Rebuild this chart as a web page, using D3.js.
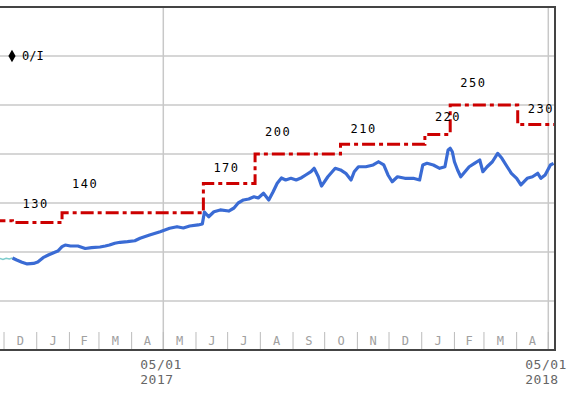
<!DOCTYPE html>
<html>
<head>
<meta charset="utf-8">
<script src="https://cdn.jsdelivr.net/npm/d3@7"></script>
<style>
  body { margin: 0; background: #fff; }
  svg { display: block; }
</style>
</head>
<body>
<svg id="chart"></svg>
<script>
// share price before the period (thin line)
const preDates = ["2016-11-27", "2016-11-30", "2016-12-03", "2016-12-06", "2016-12-09"];
const preValues = [93.5, 92.5, 93.6, 92.8, 93.9];

// share price
const priceDates = [
  "2016-12-09", "2016-12-13", "2016-12-18", "2016-12-23", "2016-12-29", "2017-01-02", "2017-01-07", "2017-01-12",
  "2017-01-17", "2017-01-21", "2017-01-25", "2017-01-28", "2017-02-02", "2017-02-09", "2017-02-16", "2017-02-22",
  "2017-03-02", "2017-03-07", "2017-03-11", "2017-03-16", "2017-03-21", "2017-03-28", "2017-04-04", "2017-04-09",
  "2017-04-18", "2017-04-28", "2017-05-07", "2017-05-14", "2017-05-20", "2017-05-26", "2017-06-03", "2017-06-07",
  "2017-06-09", "2017-06-13", "2017-06-18", "2017-06-24", "2017-07-02", "2017-07-07", "2017-07-11", "2017-07-16",
  "2017-07-21", "2017-07-26", "2017-07-30", "2017-08-04", "2017-08-09", "2017-08-13", "2017-08-17", "2017-08-21",
  "2017-08-25", "2017-08-30", "2017-09-04", "2017-09-09", "2017-09-13", "2017-09-18", "2017-09-21", "2017-09-25",
  "2017-09-28", "2017-10-04", "2017-10-11", "2017-10-16", "2017-10-21", "2017-10-26", "2017-10-29", "2017-11-02",
  "2017-11-09", "2017-11-16", "2017-11-21", "2017-11-26", "2017-11-30", "2017-12-04", "2017-12-09", "2017-12-16",
  "2017-12-24", "2017-12-30", "2018-01-02", "2018-01-06", "2018-01-12", "2018-01-18", "2018-01-23", "2018-01-26",
  "2018-01-28", "2018-01-30", "2018-02-01", "2018-02-04", "2018-02-07", "2018-02-11", "2018-02-15", "2018-02-20",
  "2018-02-25", "2018-02-28", "2018-03-04", "2018-03-09", "2018-03-14", "2018-03-18", "2018-03-23", "2018-03-27",
  "2018-04-01", "2018-04-05", "2018-04-11", "2018-04-16", "2018-04-21", "2018-04-24", "2018-04-28", "2018-05-03",
  "2018-05-06"
];
const priceValues = [
  93.9, 91.8, 89.5, 87.8, 88.3, 89.8, 94.2, 96.9,
  99.3, 101, 105.4, 107.1, 106.1, 106.1, 103.6, 104.4,
  105.1, 106.1, 107.1, 108.9, 109.9, 110.5, 111.5, 114,
  117.3, 120.7, 124.2, 125.8, 124.5, 126.5, 127.6, 128.6,
  140.8, 136, 141.1, 142.9, 141.8, 144.9, 150, 153.1,
  154.1, 156.4, 155.1, 159.9, 153.1, 161.2, 170.1, 175.5,
  173.5, 175.2, 173.5, 175.8, 178.6, 182, 185.4, 176.8,
  167.3, 176.8, 185.4, 183.7, 180.3, 173.5, 181.9, 187,
  187, 188.8, 192.1, 188.8, 178.6, 171.7, 176.8, 175.2,
  175.2, 173.5, 188.8, 190.5, 188.8, 185.4, 187, 204.1,
  205.8, 202.3, 192.1, 183.7, 176.8, 181.9, 187, 190.5,
  193.9, 181.9, 187, 192.1, 200.7, 195.6, 187, 180.3,
  175.2, 168.4, 175.2, 176.8, 180.3, 175.2, 178.6, 188.8,
  190.5
];

// target price steps
const targetDates = ["2016-11-20", "2016-12-09", "2017-01-25", "2017-06-08", "2017-07-27", "2017-10-16", "2018-01-04", "2018-01-28", "2018-04-02", "2018-05-12"];
const targetValues = [132, 130, 140, 170, 200, 210, 220, 250, 230, 230];
const targetLabels = ["", "130", "140", "170", "200", "210", "220", "250", "230", ""];

const gridValues = [50, 100, 150, 200, 250, 300];
const monthLetters = ["J", "F", "M", "A", "M", "J", "J", "A", "S", "O", "N", "D"];
const dateTicks = ["2017-05-01", "2018-05-01"];
const legendText = "0/I";

// how far each target label sits above its step (px)
const labelDy = [0, 18, 28, 15, 22, 15, 17, 22, 15, 0];

const width = 571, height = 397;
const plotRight = 555, plotTop = 7, plotBottom = 350;
const parse = d3.timeParse("%Y-%m-%d");
const mono = "'DejaVu Sans Mono', monospace";

const svg = d3.select("#chart").attr("width", width).attr("height", height);

const x = d3.scaleTime()
  .domain([parse("2017-05-01"), parse("2018-05-01")])
  .range([163.3, 548.3]);
const y = d3.scaleLinear().domain([0, 350]).range([plotBottom, plotTop]);

svg.append("defs").append("clipPath").attr("id", "plot")
  .append("rect").attr("x", 0).attr("y", plotTop).attr("width", plotRight).attr("height", plotBottom - plotTop);

// gridlines
svg.append("g").selectAll("line").data(gridValues).enter().append("line")
  .attr("x1", 0).attr("x2", plotRight)
  .attr("y1", d => y(d)).attr("y2", d => y(d))
  .attr("stroke", "#c8c8c8").attr("stroke-width", 1.5);

svg.append("g").selectAll("line").data(dateTicks).enter().append("line")
  .attr("x1", d => x(parse(d))).attr("x2", d => x(parse(d)))
  .attr("y1", plotTop).attr("y2", plotBottom)
  .attr("stroke", "#c8c8c8").attr("stroke-width", 1.5);

// month row
const x0 = x.invert(0), x1 = x.invert(plotRight);
const months = d3.timeMonth.range(d3.timeMonth.floor(x0), x1);
const monthMid = d => (x(d) + x(d3.timeMonth.offset(d, 1))) / 2;
const monthG = svg.append("g").attr("clip-path", "url(#plot)");
monthG.selectAll("line").data(months).enter().append("line")
  .attr("x1", d => x(d)).attr("x2", d => x(d))
  .attr("y1", 332).attr("y2", plotBottom)
  .attr("stroke", "#bbb").attr("stroke-width", 1);
monthG.selectAll("text").data(months.filter(d => monthMid(d) > 6)).enter().append("text")
  .attr("x", monthMid)
  .attr("y", 341)
  .attr("text-anchor", "middle").attr("dominant-baseline", "middle")
  .attr("font-family", mono).attr("font-size", 12).attr("fill", "#a0a0a0")
  .text(d => monthLetters[d.getMonth()]);

// target price line
const target = targetDates.map((d, i) => ({ date: parse(d), value: targetValues[i], label: targetLabels[i], dy: labelDy[i] }));
const step = d3.line().x(d => x(d.date)).y(d => y(d.value)).curve(d3.curveStepAfter);
svg.append("path").datum(target)
  .attr("clip-path", "url(#plot)")
  .attr("d", step)
  .attr("fill", "none").attr("stroke", "#cc0000").attr("stroke-width", 3)
  .attr("stroke-dasharray", "13,4,4,4");

// price lines
const line = d3.line().x(d => x(d.date)).y(d => y(d.value));
const pre = preDates.map((d, i) => ({ date: parse(d), value: preValues[i] }));
const price = priceDates.map((d, i) => ({ date: parse(d), value: priceValues[i] }));
svg.append("path").datum(pre)
  .attr("clip-path", "url(#plot)")
  .attr("d", line).attr("fill", "none").attr("stroke", "#7ccccc").attr("stroke-width", 1.5);
svg.append("path").datum(price)
  .attr("clip-path", "url(#plot)")
  .attr("d", line).attr("fill", "none").attr("stroke", "#3a6bd4").attr("stroke-width", 3.2)
  .attr("stroke-linejoin", "round");

// target labels
svg.append("g").selectAll("text").data(target.filter(d => d.label)).enter().append("text")
  .attr("x", d => x(d.date) + 10)
  .attr("y", d => y(d.value) - d.dy)
  .attr("dominant-baseline", "middle")
  .attr("font-family", mono).attr("font-size", 12).attr("letter-spacing", 1.5)
  .attr("fill", "#000")
  .text(d => d.label);

// legend
svg.append("path")
  .attr("d", d3.symbol(d3.symbolDiamond, 45)())
  .attr("transform", "translate(12,56)")
  .attr("fill", "#000");
svg.append("text")
  .attr("x", 22).attr("y", 56).attr("dominant-baseline", "middle")
  .attr("font-family", mono).attr("font-size", 12).attr("fill", "#000")
  .text(legendText);

// date labels under the frame
const fmtDay = d3.timeFormat("%m/%d"), fmtYear = d3.timeFormat("%Y");
const dl = svg.append("g").selectAll("text").data(dateTicks).enter().append("text")
  .attr("font-family", mono).attr("font-size", 13).attr("fill", "#666").attr("letter-spacing", 0.5);
dl.append("tspan").attr("x", d => x(parse(d)) - 23).attr("y", 369).text(d => fmtDay(parse(d)));
dl.append("tspan").attr("x", d => x(parse(d)) - 23).attr("y", 384).text(d => fmtYear(parse(d)));

// frame
const frame = svg.append("g").attr("stroke", "#444").attr("stroke-width", 2);
frame.append("line").attr("x1", 0).attr("x2", plotRight + 1).attr("y1", plotTop).attr("y2", plotTop);
frame.append("line").attr("x1", 0).attr("x2", plotRight + 1).attr("y1", plotBottom).attr("y2", plotBottom);
frame.append("line").attr("x1", plotRight).attr("x2", plotRight).attr("y1", plotTop).attr("y2", plotBottom);
</script>
</body>
</html>
